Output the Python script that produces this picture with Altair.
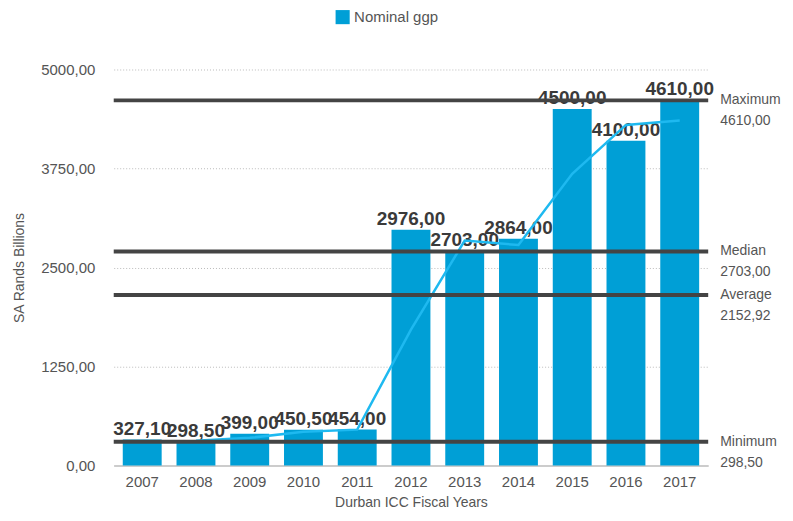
import altair as alt
import pandas as pd

years = ["2007", "2008", "2009", "2010", "2011", "2012", "2013", "2014", "2015", "2016", "2017"]
ggp = [327.10, 298.50, 399.00, 450.50, 454.00, 2976.00, 2703.00, 2864.00, 4500.00, 4100.00, 4610.00]
trend_years = ["2008", "2009", "2010", "2011", "2012", "2013", "2014", "2015", "2016", "2017"]
trend_values = [312.80, 348.75, 424.75, 452.25, 1715.00, 2839.50, 2783.50, 3682.00, 4300.00, 4355.00]
ref_names = ["Maximum", "Median", "Average", "Minimum"]
ref_values = [4610.00, 2703.00, 2152.92, 298.50]
y_ticks = [0, 1250, 2500, 3750, 5000]

BLUE = "#009FD6"
LINE_BLUE = "#1EB9F0"
DARK = "#444444"
TXT = "#555555"
FONT = "Liberation Sans"


def fmt(v):
    return f"{v:.2f}".replace(".", ",")


bars_df = pd.DataFrame({"year": years, "value": ggp, "series": "Nominal ggp",
                        "label": [fmt(v) for v in ggp]})
trend_df = pd.DataFrame({"year": trend_years, "value": trend_values})
ref_df = pd.DataFrame({"name": ref_names, "value": ref_values,
                       "label": [f"{n}\n{fmt(v)}" for n, v in zip(ref_names, ref_values)]})

W, H = 596, 397

xscale = alt.Scale(domain=years, paddingInner=0.27, paddingOuter=0.165)
yscale = alt.Scale(domain=[0, 5000], nice=False)

x_enc = alt.X("year:O", scale=xscale, sort=years,
              axis=alt.Axis(title="Durban ICC Fiscal Years", labelAngle=0, ticks=False,
                            domainColor="#cccccc", domainWidth=2, labelPadding=9,
                            labelFontSize=15, labelColor=TXT, titleFontSize=14,
                            titleColor=TXT, titleFontWeight="normal", titlePadding=6))
y_enc = alt.Y("value:Q", scale=yscale,
              axis=alt.Axis(title="SA Rands Billions", values=y_ticks, ticks=False, domain=False,
                            labelExpr="replace(format(datum.value, '.2f'), '.', ',')",
                            labelPadding=19, labelFontSize=15, labelColor=TXT,
                            grid=True, gridColor="#bbbbbb", gridDash=[1, 2], gridWidth=1,
                            titleFontSize=14, titleColor=TXT, titleFontWeight="normal",
                            titlePadding=14))

bars = alt.Chart(bars_df).mark_bar(size=39).encode(
    x=x_enc,
    y=y_enc,
    fill=alt.Fill("series:N", scale=alt.Scale(domain=["Nominal ggp"], range=[BLUE]),
                  legend=alt.Legend(title=None, orient="none", legendX=222, legendY=-60,
                                    symbolType="square", symbolSize=200, symbolStrokeWidth=0,
                                    labelFontSize=15, labelColor=TXT, labelFont=FONT)),
)

labels = alt.Chart(bars_df).mark_text(
    fontSize=19, fontWeight="bold", color="#3a3a3a", baseline="bottom", dy=-1, font=FONT
).encode(
    x=alt.X("year:O", scale=xscale, sort=years),
    y=alt.Y("value:Q", scale=yscale),
    text="label:N",
)

trend = alt.Chart(trend_df).mark_line(color=LINE_BLUE, strokeWidth=2.5).encode(
    x=alt.X("year:O", scale=xscale, sort=years),
    y=alt.Y("value:Q", scale=yscale),
)

rules = alt.Chart(ref_df).mark_rule(color=DARK, strokeWidth=4).encode(
    y=alt.Y("value:Q", scale=yscale),
)

ref_text = alt.Chart(ref_df).mark_text(
    align="left", baseline="middle", fontSize=14, color=TXT, lineBreak="\n",
    lineHeight=21, font=FONT
).encode(
    x=alt.value(608),
    y=alt.Y("value:Q", scale=yscale),
    text="label:N",
)

chart = alt.layer(bars, labels, trend, rules, ref_text).properties(
    width=W, height=H,
    autosize=alt.AutoSizeParams(type="none"),
    padding={"left": 106, "top": 61, "right": 77, "bottom": 46},
).configure(font=FONT).configure_view(stroke=None)

chart.save("out.html", embed_options={"renderer": "svg", "actions": False})
